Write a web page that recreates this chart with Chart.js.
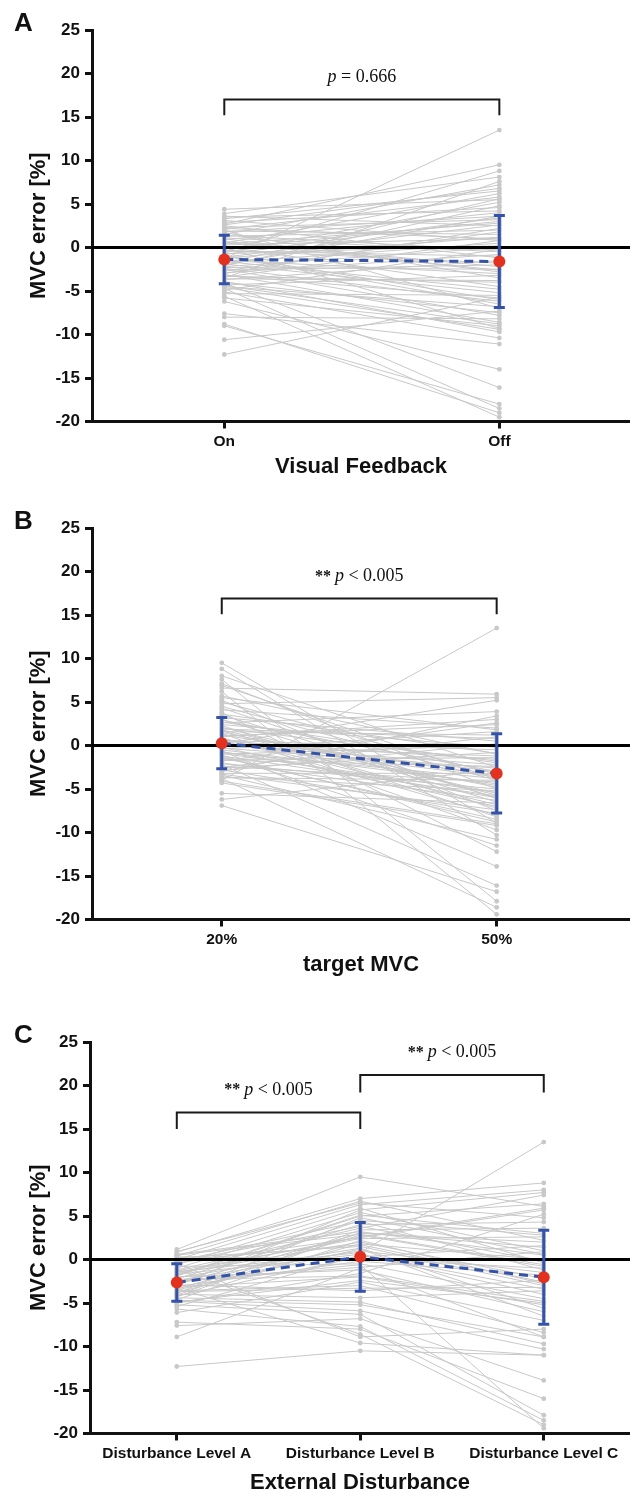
<!DOCTYPE html>
<html>
<head>
<meta charset="utf-8">
<script src="https://cdn.jsdelivr.net/npm/chart.js@4.4.0/dist/chart.umd.min.js"></script>
<style>
  body { margin: 0; background: #fff; width: 630px; height: 1496px; position: relative; overflow: hidden; }
  canvas { position: absolute; left: 0; }
</style>
</head>
<body>
<canvas id="chartA" width="630" height="484" style="top:0px"></canvas>
<canvas id="chartB" width="630" height="484" style="top:498px"></canvas>
<canvas id="chartC" width="630" height="484" style="top:1012px"></canvas>
<script>
// Data panel A (Visual Feedback): satu garis per pasangan
const catsA = ["On", "Off"];
const feedbackOn = [4.4, 3.9, 3.6, 3.3, 3.1, 2.9, 2.7, 2.5, 2.3, 2.1, 1.9, 1.7, 1.5, 1.3, 1.1, 0.9,
  0.7, 0.5, 0.3, 0.1, -0.1, -0.3, -0.5, -0.7, -0.9, -1.1, -1.3, -1.5, -1.7, -1.9, -2.1, -2.3,
  -2.5, -2.7, -2.9, -3.1, -3.3, -3.5, -3.7, -3.9, -4.1, -4.3, -4.5, -4.7, -4.9, -5.1, -5.3, -5.6,
  -5.8, -6.2, -7.6, -8.0, -8.8, -9.0, -10.6, -12.3, 2.0, 0.0, -2.0, -0.6, 1.0, -3.0, 2.6, -1.0,
  3.5, 1.8, 0.4, -0.4, -1.2, -1.6, -2.2, -2.6, -3.2, -3.6, -4.0, -4.4, -0.8, 1.4, 2.2, -2.4,
  -1.8, 0.6, -3.4, -4.6];
const feedbackOff = [5.5, 8.1, 2.5, 6.5, 0.8, 4.6, 9.5, -1.2, 3.2, 5.8, 1.5, -3.5, 7.2, 2.0, -0.5, 4.0,
  -2.2, 6.2, 1.0, -4.5, 3.0, -1.8, 8.8, 0.2, -6.0, 2.6, 13.5, -3.0, 0.5, -5.2, 4.8, -2.5,
  -7.8, 1.8, -0.8, -8.6, -4.0, 7.6, -1.5, -9.7, -16.1, -3.2, -6.8, -18.5, -0.2, -10.4, -5.5, -19.5,
  -9.0, -14.0, -11.1, -8.2, -19.0, -18.0, -7.3, -5.7, -7.0, -9.3, 3.6, 5.2, -2.8, 2.2, 6.8, -6.5,
  4.2, 3.6, 2.8, -1.0, 1.2, -4.8, 0.0, -2.0, -5.8, -3.8, -7.5, -8.8, 3.4, -0.3, 1.0, -6.2,
  5.6, -2.6, 0.8, -9.4];
const meanA = [-1.38, -1.61];
const sdA = [2.8, 5.3];

// Data panel B (target MVC)
const catsB = ["20%", "50%"];
const mvc20 = [9.5, 8.8, 8.0, 7.6, 7.1, 6.6, 6.2, 5.7, 5.2, 4.8, 4.5, 4.1, 3.8, 3.5, 3.2, 2.9,
  2.6, 2.3, 2.0, 1.8, 1.6, 1.4, 1.2, 1.0, 0.8, 0.6, 0.4, 0.2, 0.0, -0.2, -0.4, -0.6,
  -0.8, -1.0, -1.2, -1.4, -1.6, -1.8, -2.0, -2.2, -2.4, -2.6, -2.8, -3.0, -3.2, -3.4, -3.6, -3.8,
  -4.0, -4.3, -5.5, -6.2, -6.9, 1.5, -0.3, 0.9, 2.4, -1.1, 3.0, -2.5, 5.0, 0.5, -0.9, 1.9,
  6.9, 4.3, 3.6, 2.7, 1.7, 0.7, -0.1, -0.5, -1.3, -1.7, -2.1, -2.9, -3.3, -3.7, -4.1, 1.1,
  2.1, 5.5, -0.7, 0.3];
const mvc50 = [-8.9, -10.3, -2.5, -17.9, -5.0, 5.9, -19.4, -1.0, -7.5, 5.5, -4.0, 2.0, -12.2, -6.0, 0.5, -3.0,
  3.9, -8.2, -1.8, -5.5, 1.2, -9.7, -3.5, 3.0, -6.8, -0.5, -4.6, 5.2, -2.2, -7.0, 1.6, -13.9,
  -3.8, 0.0, -5.8, -8.5, -1.4, 2.6, -6.3, -16.1, -4.2, -0.8, -7.8, 3.4, -3.2, -10.8, -5.2, -18.6,
  13.5, -9.2, -6.6, -2.8, -16.8, -4.8, -2.6, -8.0, -0.2, -11.5, -6.5, 1.0, -3.3, -1.6, -5.4, 0.8,
  -3.9, -6.1, -0.9, -2.0, -7.2, -3.0, -1.2, -4.4, -8.8, -2.4, -5.0, 0.2, -7.4, -4.0, -9.0, 2.4,
  -5.7, 1.8, -6.0, -3.6];
const meanB = [0.27, -3.21];
const sdB = [2.95, 4.55];

// Data panel C (External Disturbance)
const catsC = ["Disturbance Level A", "Disturbance Level B", "Disturbance Level C"];
const levelA = [1.15, 0.85, 0.6, 0.4, 0.2, 0.0, -0.2, -0.4, -0.6, -0.8, -1.0, -1.2, -1.4, -1.6, -1.8, -2.0,
  -2.2, -2.4, -2.6, -2.8, -3.0, -3.2, -3.4, -3.6, -3.8, -4.0, -4.2, -4.4, -4.6, -4.8, -5.0, -5.2,
  -5.4, -5.7, -6.1, -7.2, -7.6, -8.9, -12.3, -1.1, -3.3, -0.5, -2.1, -4.1, 0.3, -1.5, -2.9, -3.9,
  0.9, -0.3, -1.3, -1.7, -2.3, -2.7, -3.1, -3.5, -3.7, -4.3, -4.7, -0.1, -2.5, -1.9, -4.9, 0.5];
const levelB = [9.5, 7.0, 3.2, 6.7, 1.5, 6.3, 4.4, 2.5, 5.9, -0.5, 5.4, 3.6, 0.8, 2.0, 5.1, -1.2,
  4.0, 1.0, -0.6, 3.0, 5.7, -2.0, 2.8, -3.0, 1.8, -4.4, 0.3, -4.9, 2.2, -5.9, -1.6, -6.3,
  0.5, -7.7, -2.6, -8.0, -6.8, -1.0, -10.5, -8.6, -9.6, -8.9, 1.3, 3.4, 0.1, 2.6, -3.6, 4.8,
  6.5, 3.8, 2.4, 0.6, -1.9, 4.5, -0.2, 1.2, -3.3, 3.1, -5.2, 1.7, -0.9, 5.0, -2.4, 2.9];
const levelC = [6.1, 8.8, 0.5, 2.2, -3.0, 8.0, -1.2, 5.7, -0.4, -4.5, 1.0, 7.4, 13.5, -2.2, 3.0, -6.0,
  4.3, -1.5, -19.4, 2.0, 7.7, -5.2, -0.8, -8.4, 0.0, -3.6, 1.6, -9.7, -2.8, -10.3, 5.2, -17.9,
  -4.0, -18.5, -7.0, -16.0, -13.9, -8.9, -11.0, -19.0, -11.0, -8.0, -5.6, 3.6, -1.0, 5.9, -2.4, 0.6,
  4.8, -0.2, 2.6, -3.4, -4.8, 2.8, -1.8, -6.5, -3.2, 1.4, -8.9, -2.6, 0.9, 6.4, -5.0, -0.6];
const meanC = [-2.64, 0.31, -2.03];
const sdC = [2.15, 3.95, 5.4];

// Sumbu Y bersama
const yMin = -20, yMax = 25, yStep = 5;

const INK = "#111";
const GREY = "#c8c8c8";
const BLUE = "#3453a8";
const RED = "#e2321f";
const SANS = "'Liberation Sans', Arial, sans-serif";
const SERIF = "'Liberation Serif', 'Times New Roman', serif";

// Plugin: huruf panel, kurung signifikansi dan teks p
const decor = {
  id: "decor",
  afterDraw(chart, args, opts) {
    const { ctx, chartArea, scales: { x, y } } = chart;
    ctx.save();
    ctx.fillStyle = INK;
    ctx.font = "bold 26px " + SANS;
    ctx.textAlign = "left";
    ctx.textBaseline = "alphabetic";
    ctx.fillText(opts.letter, 14, chartArea.top + 1);

    opts.sig.forEach(b => {
      const x1 = x.getPixelForValue(b.from);
      const x2 = x.getPixelForValue(b.to);
      const yt = y.getPixelForValue(b.top);
      const yl = y.getPixelForValue(b.leg);
      ctx.strokeStyle = "#1a1a1a";
      ctx.lineWidth = 2;
      ctx.beginPath();
      ctx.moveTo(x1, yl);
      ctx.lineTo(x1, yt);
      ctx.lineTo(x2, yt);
      ctx.lineTo(x2, yl);
      ctx.stroke();

      const parts = [
        [b.stars, "bold 16px " + SERIF],
        ["p", "italic 18px " + SERIF],
        [b.rest, "18px " + SERIF]
      ].filter(p => p[0]);
      let w = 0;
      parts.forEach(p => { ctx.font = p[1]; w += ctx.measureText(p[0]).width; });
      let cx = (x1 + x2) / 2 - w / 2;
      const ty = y.getPixelForValue(b.label);
      ctx.textBaseline = "middle";
      parts.forEach(p => {
        ctx.font = p[1];
        ctx.fillText(p[0], cx, ty);
        cx += ctx.measureText(p[0]).width;
      });
    });
    ctx.restore();
  }
};

function panel(id, o) {
  const sets = [];
  const meanPts = o.mean.map((m, i) => ({ x: i, y: m }));
  // titik rata-rata (paling atas)
  sets.push({ data: meanPts, showLine: false, pointRadius: 6, pointBackgroundColor: RED, pointBorderWidth: 0 });
  // garis putus-putus rata-rata
  sets.push({ data: meanPts, borderColor: BLUE, borderWidth: 3, borderDash: [9, 6], pointRadius: 0 });
  // error bar (SD)
  o.mean.forEach((m, i) => {
    sets.push({
      data: [{ x: i, y: m - o.sd[i] }, { x: i, y: m + o.sd[i] }],
      borderColor: BLUE, borderWidth: 3,
      pointStyle: "line", pointRadius: 5.5, pointBorderColor: BLUE, pointBorderWidth: 3
    });
  });
  // garis nol
  sets.push({ data: [{ x: o.xMin, y: 0 }, { x: o.xMax, y: 0 }], borderColor: "#000", borderWidth: 3, pointRadius: 0 });
  // garis individu abu-abu
  for (let k = 0; k < o.series[0].length; k++) {
    sets.push({
      data: o.series.map((s, i) => ({ x: i, y: s[k] })),
      borderColor: GREY, borderWidth: 1,
      pointRadius: 2.4, pointBackgroundColor: GREY, pointBorderWidth: 0
    });
  }

  return new Chart(document.getElementById(id), {
    type: "line",
    data: { datasets: sets },
    plugins: [decor],
    options: {
      responsive: false,
      animation: false,
      events: [],
      layout: { autoPadding: false, padding: { top: 30, left: 0, right: 0, bottom: 0 } },
      plugins: {
        legend: { display: false },
        tooltip: { enabled: false },
        decor: { letter: o.letter, sig: o.sig }
      },
      scales: {
        x: {
          type: "linear",
          min: o.xMin,
          max: o.xMax,
          afterBuildTicks: s => { s.ticks = o.cats.map((c, i) => ({ value: i })); },
          afterFit: s => { s.height = 62.5; },
          ticks: {
            callback: v => o.cats[v],
            autoSkip: false, maxRotation: 0,
            color: INK, padding: 4,
            font: { family: SANS, size: 15.5, weight: "bold" }
          },
          grid: { drawOnChartArea: false, drawTicks: true, tickLength: 7, tickWidth: 3, tickColor: INK, color: INK },
          border: { display: true, color: INK, width: 3 },
          title: {
            display: true, text: o.xTitle, color: INK,
            font: { family: SANS, size: 22, weight: "bold" },
            padding: { top: 0, bottom: o.titlePad }
          }
        },
        y: {
          min: yMin,
          max: yMax,
          afterFit: s => { s.width = o.axisX; },
          ticks: {
            stepSize: yStep, color: INK, padding: 5,
            font: { family: SANS, size: 17, weight: "bold" }
          },
          grid: { drawOnChartArea: false, drawTicks: true, tickLength: 7, tickWidth: 3, tickColor: INK, color: INK },
          border: { display: true, color: INK, width: 3 },
          title: {
            display: true, text: "MVC error [%]", color: INK,
            font: { family: SANS, size: 22, weight: "bold" },
            padding: { top: 26, bottom: 0 }
          }
        }
      }
    }
  });
}

panel("chartA", {
  letter: "A", cats: catsA, series: [feedbackOn, feedbackOff], mean: meanA, sd: sdA,
  xMin: -0.481, xMax: 1.475, axisX: 92, xTitle: "Visual Feedback", titlePad: 4,
  sig: [{ from: 0, to: 1, top: 17.0, leg: 15.2, label: 19.6, stars: "", rest: " = 0.666" }]
});

panel("chartB", {
  letter: "B", cats: catsB, series: [mvc20, mvc50], mean: meanB, sd: sdB,
  xMin: -0.472, xMax: 1.485, axisX: 92, xTitle: "target MVC", titlePad: 4,
  sig: [{ from: 0, to: 1, top: 16.9, leg: 15.1, label: 19.4, stars: "** ", rest: " < 0.005" }]
});

panel("chartC", {
  letter: "C", cats: catsC, series: [levelA, levelB, levelC], mean: meanC, sd: sdC,
  xMin: -0.473, xMax: 2.47, axisX: 90, xTitle: "External Disturbance", titlePad: 0,
  sig: [
    { from: 0, to: 1, top: 16.9, leg: 15.0, label: 19.5, stars: "** ", rest: " < 0.005" },
    { from: 1, to: 2, top: 21.2, leg: 19.2, label: 23.8, stars: "** ", rest: " < 0.005" }
  ]
});
</script>
</body>
</html>
